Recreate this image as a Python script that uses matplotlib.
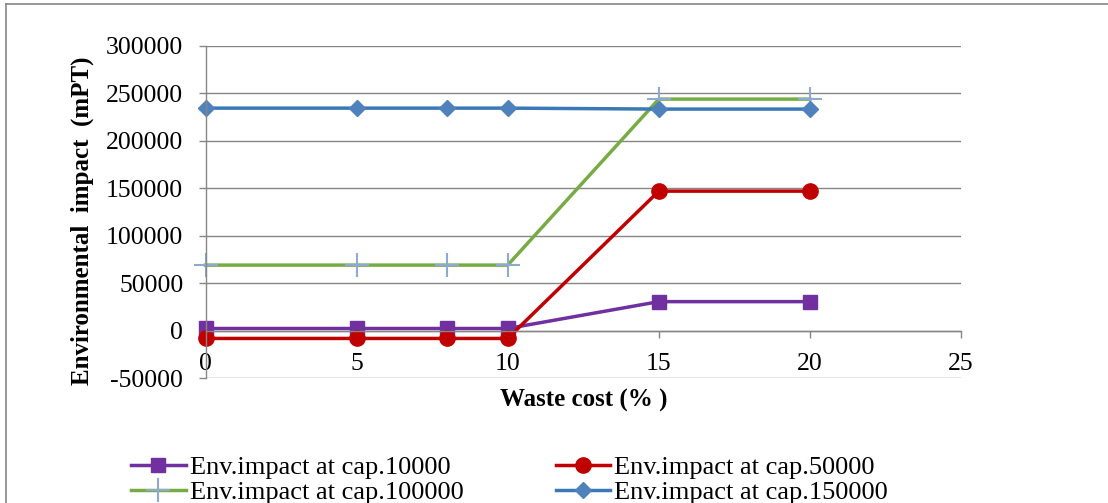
import matplotlib
matplotlib.use("Agg")
import matplotlib.pyplot as plt
from matplotlib.lines import Line2D

# data
waste_cost = [0, 5, 8, 10, 15, 20]
cap_10000 = [2200, 2200, 2200, 2200, 30500, 30500]
cap_50000 = [-8300, -8300, -8300, -8300, 147000, 147000]
cap_100000 = [69000, 69000, 69000, 69000, 244000, 244000]
cap_150000 = [234500, 234500, 234500, 234500, 233500, 233500]
labels = ["Env.impact at cap.10000", "Env.impact at cap.50000",
          "Env.impact at cap.100000", "Env.impact at cap.150000"]
x_ticks = [0, 5, 10, 15, 20, 25]
y_ticks = [-50000, 0, 50000, 100000, 150000, 200000, 250000, 300000]

plt.rcParams['font.family'] = ['Liberation Serif', 'DejaVu Serif']
plt.rcParams['axes.unicode_minus'] = False
grey = '#868686'

W, H = 1108, 503
fig = plt.figure(figsize=(W / 100, H / 100), dpi=100)
ax = fig.add_axes([205.5 / W, 1 - 378 / H, (961 - 205.5) / W, (378 - 46) / H])

l1, = ax.plot(waste_cost, cap_10000, color='#7030A0', lw=2.5, marker='s',
              ms=10.5, clip_on=False, label=labels[0])
l2, = ax.plot(waste_cost, cap_50000, color='#C00000', lw=2.5, marker='o',
              ms=11, clip_on=False, label=labels[1])
l3, = ax.plot(waste_cost, cap_100000, color='#77AC45', lw=2.5, marker='+',
              ms=17, mew=1.5, mec='#8EA9D2', clip_on=False, label=labels[2])
l4, = ax.plot(waste_cost, cap_150000, color='#3A78B8', lw=2.5, marker='D',
              ms=8.5, mfc='#4F81BD', mec='#4F81BD', clip_on=False,
              label=labels[3])

ax.set_xlim(0, 25)
ax.set_ylim(-50000, 300000)
ax.set_xticks(x_ticks)
ax.set_yticks(y_ticks)
ax.yaxis.grid(True, color=grey, lw=1.0)
ax.set_axisbelow(True)

for s in ['top', 'right']:
    ax.spines[s].set_visible(False)
ax.spines['bottom'].set_position(('data', 0))
ax.spines['bottom'].set_color(grey)
ax.spines['left'].set_color(grey)
ax.spines['bottom'].set_linewidth(1.0)
ax.spines['left'].set_linewidth(1.0)
ax.tick_params(axis='y', direction='out', length=5, width=1.0, color=grey,
               labelsize=18.5, pad=11)
ax.tick_params(axis='x', direction='out', length=5, width=1.0, color=grey,
               labelsize=18.5, pad=11)

ax.set_xlabel("Waste cost (% )", fontsize=18, fontweight='bold')
ax.xaxis.set_label_coords(0.501, -0.069)
ax.xaxis.label.set_va('center')
ax.set_ylabel("Environmental  impact  (mPT)", fontsize=18, fontweight='bold')
ax.yaxis.set_label_coords(-0.163, 0.473)
ax.yaxis.label.set_va('center')

# row-wise order as in the reference legend
fig.legend([l1, l3, l2, l4], [labels[0], labels[2], labels[1], labels[3]],
           loc='upper left', bbox_to_anchor=(131 / W, 1 - 456 / H), ncol=2,
           frameon=False, fontsize=19, borderpad=0, borderaxespad=0,
           handlelength=2.07, handletextpad=0.15, columnspacing=3.5,
           labelspacing=0.05)

# chart border, cut off at right and bottom
fig.add_artist(Line2D([6 / W, 1], [1 - 4 / H, 1 - 4 / H], color=grey, lw=1.2,
                      transform=fig.transFigure))
fig.add_artist(Line2D([6 / W, 6 / W], [1 - 4 / H, 0], color=grey, lw=1.2,
                      transform=fig.transFigure))

fig.savefig("out.png", dpi=100)
